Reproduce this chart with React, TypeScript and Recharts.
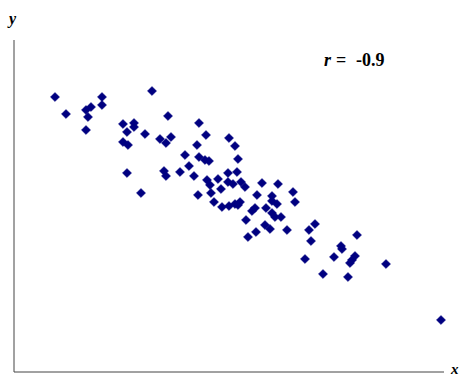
import React from "react";
import { ScatterChart, Scatter, XAxis, YAxis, ReferenceLine } from "recharts";

// Point positions (x to the right, y upward; arbitrary units)
const xValues = [
  41, 52, 72, 77, 74, 88, 88, 72, 138, 154, 109, 120, 120, 113, 131, 109, 114, 146, 157, 152,
  113, 127, 150, 152, 166, 171, 175, 185, 192, 215, 221, 183, 224, 185, 191, 195, 180, 214, 223,
  193, 204, 214, 227, 231, 196, 207, 184, 197, 248, 243, 279, 281, 200, 208, 215, 221, 226, 238,
  241, 252, 258, 258, 263, 258, 261, 267, 232, 251, 256, 242, 273, 234, 301, 295, 297, 343, 327,
  328, 341, 338, 336, 320, 291, 309, 334, 372, 427, 219, 224, 264
];
const yValues = [
  275, 258, 262, 265, 255, 275, 267, 242, 281, 256, 248, 249, 245, 240, 238, 230, 227, 233, 235,
  229, 199, 179, 201, 196, 200, 217, 206, 249, 237, 234, 226, 227, 213, 215, 212, 211, 196, 199,
  200, 192, 193, 190, 190, 185, 187, 183, 177, 179, 189, 177, 180, 170, 170, 165, 166, 168, 170,
  161, 164, 164, 176, 171, 168, 159, 155, 155, 152, 147, 143, 140, 142, 135, 148, 142, 131, 137,
  126, 123, 116, 112, 109, 115, 113, 98, 95, 108, 52, 188, 167, 188
];

const data = xValues.map((x, i) => ({ x, y: yValues[i] }));

const Diamond = (props: any) => {
  const { cx, cy } = props;
  const r = 4.6;
  return (
    <path
      d={`M${cx},${cy - r}L${cx + r},${cy}L${cx},${cy + r}L${cx - r},${cy}Z`}
      fill="#000080"
      stroke="#000080"
      strokeWidth={0.4}
    />
  );
};

export default function App() {
  return (
    <div style={{ position: "absolute", left: 0, top: 0, width: 461, height: 376, background: "#fff" }}>
      <ScatterChart
        width={461}
        height={376}
        margin={{ top: 40, right: 17, bottom: 4, left: 14 }}
      >
        <XAxis type="number" dataKey="x" domain={[0, 430]} hide />
        <YAxis type="number" dataKey="y" domain={[0, 332]} hide />
        <ReferenceLine x={0} stroke="#444" strokeWidth={1} />
        <ReferenceLine y={0} stroke="#444" strokeWidth={1} />
        <Scatter data={data} shape={Diamond} isAnimationActive={false} />
      </ScatterChart>
      <svg
        width={461}
        height={376}
        style={{ position: "absolute", left: 0, top: 0, pointerEvents: "none" }}
      >
        <text x={9} y={24} fontFamily="Liberation Serif" fontSize={16} fontWeight="bold" fontStyle="italic">
          y
        </text>
        <text x={451} y={374} fontFamily="Liberation Serif" fontSize={15} fontWeight="bold" fontStyle="italic">
          x
        </text>
        <text y={66} fontFamily="Liberation Serif" fontSize={18} fontWeight="bold">
          <tspan x={324} fontStyle="italic">r</tspan>
          <tspan x={336}>=</tspan>
          <tspan x={356}>-0.9</tspan>
        </text>
      </svg>
    </div>
  );
}
